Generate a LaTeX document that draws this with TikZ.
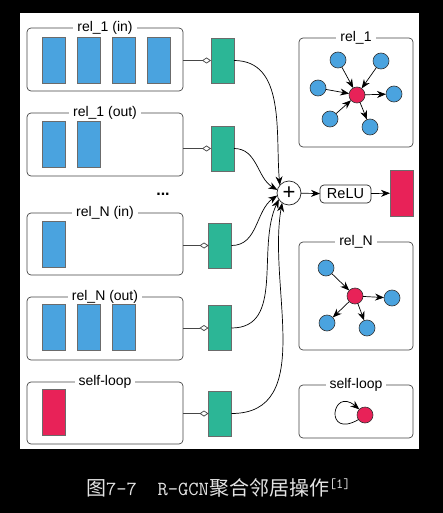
\documentclass[tikz,border=0pt]{standalone}
\usepackage{fontspec}
\setmainfont{Liberation Sans}
\newfontfamily\cjkfont{Noto Sans CJK SC}
\usetikzlibrary{arrows.meta,positioning}
\definecolor{relblue}{RGB}{74,163,223}
\definecolor{relred}{RGB}{232,34,88}
\definecolor{msggreen}{RGB}{44,182,150}
\definecolor{boxgray}{RGB}{70,70,70}
\definecolor{capgray}{RGB}{228,228,228}

\begin{document}
\begin{tikzpicture}[x=1pt, y=-1pt, >={Stealth[length=9pt,width=7pt]},
                    line width=0.7pt, inner sep=0pt, outer sep=0pt]
    \tikzstyle{relbox}=[draw=boxgray, rounded corners=4pt, minimum width=156pt]
    \tikzstyle{graphbox}=[draw=boxgray, rounded corners=4pt, minimum width=114pt]
    \tikzstyle{boxlabel}=[fill=white, inner xsep=4pt, font=\fontsize{14}{14}\selectfont]
    \tikzstyle{feat}=[draw=boxgray!80, line width=0.5pt, minimum width=23pt, minimum height=46pt]
    \tikzstyle{msg}=[draw=boxgray!80, fill=msggreen, line width=0.5pt, minimum width=23pt, minimum height=45pt]
    \tikzstyle{vtx}=[circle, draw=black!80, line width=0.6pt, minimum size=16pt]
    \tikzstyle{dia}=[-{Diamond[open,length=9pt,width=6pt]}, draw=boxgray]

    \fill[black] (0,0) rectangle (443,513);
    \fill[white] (20,13) rectangle (419,449);

    % input relations
    \node[relbox, minimum height=63pt] (in1) at (105,59.5)  {};
    \node[relbox, minimum height=63pt] (out1) at (105,144.5) {};
    \node[relbox, minimum height=62pt] (inN) at (105,244)    {};
    \node[relbox, minimum height=63pt] (outN) at (105,328.5) {};
    \node[relbox, minimum height=62pt] (self) at (105,413)   {};
    \node[boxlabel] at (in1.north)  {rel\_1 (in)};
    \node[boxlabel] at (out1.north) {rel\_1 (out)};
    \node[boxlabel] at (inN.north)  {rel\_N (in)};
    \node[boxlabel] at (outN.north) {rel\_N (out)};
    \node[boxlabel] at (self.north) {self-loop};
    \node[font=\bfseries\fontsize{16}{16}\selectfont] (dots) at (163,194) {...};

    \foreach \i in {1,...,4}
        \node[feat, fill=relblue] (in1f\i) at (18.5+35*\i,60) {};
    \foreach \i in {1,2}
        \node[feat, fill=relblue] (out1f\i) at (18.5+35*\i,144.5) {};
    \node[feat, fill=relblue] (inNf1) at (53.5,244.5) {};
    \foreach \i in {1,...,3}
        \node[feat, fill=relblue] (outNf\i) at (18.5+35*\i,327.5) {};
    \node[feat, fill=relred] (selff1) at (53.5,412.5) {};

    % messages
    \node[msg] (g1) at (222.5,60.5)  {};
    \node[msg] (g2) at (222.5,148.5) {};
    \node[msg] (g3) at (220,245.5)   {};
    \node[msg] (g4) at (220,328)     {};
    \node[msg] (g5) at (220,413.5)   {};
    \draw[dia] (g1.west -| in1.east)  -- (g1.west);
    \draw[dia] (g2.west -| out1.east) -- (g2.west);
    \draw[dia] (g3.west -| inN.east)  -- (g3.west);
    \draw[dia] (g4.west -| outN.east) -- (g4.west);
    \draw[dia] (g5.west -| self.east) -- (g5.west);

    % aggregation
    \node[circle, draw=black!85, minimum size=24pt, font=\fontsize{22}{22}\selectfont] (plus) at (289,193) {+};
    \node[draw=black!85, rounded corners=4pt, minimum width=51pt, minimum height=18pt,
          font=\fontsize{14.5}{14.5}\selectfont] (relu) at (345.5,194) {ReLU};
    \node[draw=boxgray!80, fill=relred, line width=0.5pt, minimum width=23pt, minimum height=46pt] (hout) at (401.5,193) {};
    \draw[->] (plus) -- (relu);
    \draw[->] (relu) -- (hout);

    \draw[->] (g1.east) to[out=0, in=95]  (plus.140);
    \draw[->] (g2.east) to[out=0, in=150] (plus.165);
    \draw[->] (g3.east) to[out=0, in=215] (plus.192);
    \draw[->] (g4.east) to[out=0, in=245] (plus.212);
    \draw[->] (g5.east) to[out=0, in=260] (plus.235);

    % relation graphs
    \node[graphbox, minimum height=109pt] (r1box) at (356,92.5) {};
    \node[boxlabel] at (r1box.north) {rel\_1};
    \node[vtx, fill=relred]  (c1) at (357,95)  {};
    \node[vtx, fill=relblue] (a1) at (338,60)  {};
    \node[vtx, fill=relblue] (a2) at (381,61)  {};
    \node[vtx, fill=relblue] (a3) at (318,88)  {};
    \node[vtx, fill=relblue] (a4) at (394,94)  {};
    \node[vtx, fill=relblue] (a5) at (330,119) {};
    \node[vtx, fill=relblue] (a6) at (370,127) {};
    \draw[->] (a1) -- (c1);
    \draw[->] (a2) -- (c1);
    \draw[->] (a3) -- (c1);
    \draw[->] (a5) -- (c1);
    \draw[->] (c1) -- (a4);
    \draw[->] (c1) -- (a6);

    \node[graphbox, minimum height=108pt] (rNbox) at (356,296) {};
    \node[boxlabel] at (rNbox.north) {rel\_N};
    \node[vtx, fill=relred]  (cN) at (355,296) {};
    \node[vtx, fill=relblue] (b1) at (326,268) {};
    \node[vtx, fill=relblue] (b2) at (392,298) {};
    \node[vtx, fill=relblue] (b3) at (327,323) {};
    \node[vtx, fill=relblue] (b4) at (367,328) {};
    \draw[->] (b1) -- (cN);
    \draw[->] (cN) -- (b2);
    \draw[->] (cN) -- (b3);
    \draw[->] (cN) -- (b4);

    \node[graphbox, minimum height=53pt] (slbox) at (356,411.5) {};
    \node[boxlabel] at (slbox.north) {self-loop};
    \node[vtx, fill=relred] (sl) at (365,415) {};
    \draw[->] (sl.215) .. controls +(210:40pt) and +(140:36pt) .. (sl.135);

    % caption
    \node[anchor=west, text=capgray, font=\fontsize{20}{20}\selectfont] (cap) at (86,488)
        {{\cjkfont 图}{\ttfamily 7-7\ \ R-GCN}{\cjkfont 聚合邻居操作}\textsuperscript{\ttfamily[1]}};
\end{tikzpicture}
\end{document}
